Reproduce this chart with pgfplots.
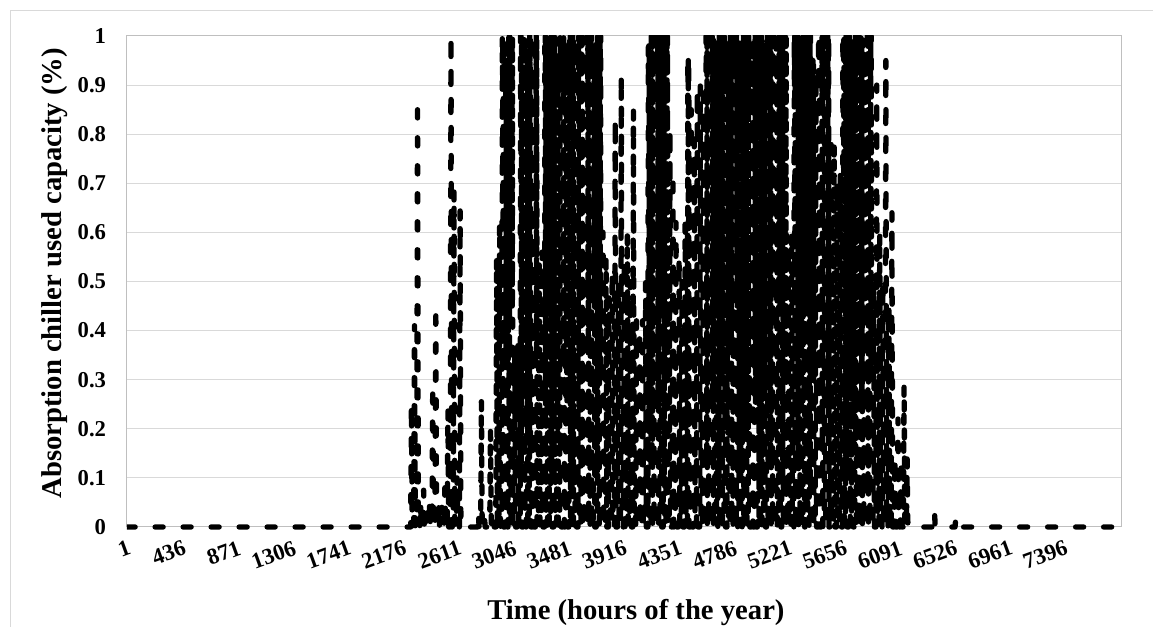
\documentclass[border=0pt]{standalone}
\usepackage{fontspec}
\setmainfont{Liberation Serif}
\usepackage{pgfplots}
\pgfplotsset{compat=1.18}
\definecolor{gridc}{HTML}{D9D9D9}
\definecolor{axisc}{HTML}{BFBFBF}
\begin{document}
\begin{tikzpicture}
\useasboundingbox (0,0) rectangle (864.75pt,470.25pt);
\draw[gridc, line width=0.75pt] (7.5pt,-5pt) -- (7.5pt,462pt) -- (875pt,462pt);
\begin{axis}[
  at={(95.25pt,75pt)}, anchor=south west,
  scale only axis, width=745.5pt, height=368.25pt,
  xmin=0, xmax=7845, ymin=0, ymax=1,
  axis line style={axisc, line width=0.75pt},
  ymajorgrids, grid style={gridc, line width=0.75pt},
  major tick length=0pt,
  xtick={1,436,871,1306,1741,2176,2611,3046,3481,3916,4351,4786,5221,5656,6091,6526,6961,7396},
  xticklabels={1,436,871,1306,1741,2176,2611,3046,3481,3916,4351,4786,5221,5656,6091,6526,6961,7396},
  ytick={0,0.1,0.2,0.3,0.4,0.5,0.6,0.7,0.8,0.9,1},
  yticklabels={0,0.1,0.2,0.3,0.4,0.5,0.6,0.7,0.8,0.9,1},
  ticklabel style={font=\fontsize{17}{19}\selectfont\bfseries},
  xticklabel style={yshift=-9.5pt, rotate=20, anchor=north east, inner sep=0pt},
  yticklabel style={anchor=east, inner sep=0pt, xshift=-15.5pt},
  xlabel={Time (hours of the year)},
  ylabel={Absorption chiller used capacity (\%)},
  every axis x label/.style={at={(axis description cs:0.512,-0.189)}, anchor=base, font=\fontsize{21.5}{24}\selectfont\bfseries},
  every axis y label/.style={at={(axis description cs:-0.0657,0.517)}, rotate=90, anchor=base, font=\fontsize{21.5}{24}\selectfont\bfseries},
  clip=false,
]
\begin{scope}
\clip (axis cs:0,-0.1) rectangle (axis cs:7845,1);
\addplot[black, line width=4pt, dash pattern=on 6pt off 15pt, line cap=round, line join=round] coordinates {
(1,0)
(2239,0)(2245,0.25)(2251,0)
(2263,0)(2269,0.41)(2275,0)
(2287,0)(2293,0.87)(2299,0)
(2311,0)(2317,0.05)(2323,0)
(2335,0)(2341,0.075)(2347,0)
(2359,0)(2365,0.03)(2371,0)
(2383,0)(2389,0.055)(2395,0)
(2407,0)(2413,0.29)(2419,0)
(2431,0)(2437,0.45)(2443,0)
(2455,0)(2461,0.05)(2467,0)
(2479,0)(2485,0.04)(2491,0)
(2503,0)(2509,0.08)(2515,0)
(2527,0)(2533,0.24)(2539,0)
(2551,0)(2557,1)(2563,0)
(2575,0)(2581,0.686)(2587,0)
(2599,0)(2605,0.1)(2611,0)
(2623,0)(2629,0.646)(2635,0)
(2767,0)(2773,0.03)(2779,0)
(2791,0)(2797,0.26)(2803,0)
(2815,0)(2821,0.02)(2827,0)
(2863,0)(2869,0.2)(2875,0)
(2887,0)(2893,0.02)(2899,0)
(2911,0)(2917,0.55)(2923,0)
(2935,0)(2941,0.62)(2947,0)
(2959,0)(2962,1)(2964,0.92)(2966,1)(2968,0.15)(2970,1)(2972,0)
(2983,0)(2986,0.95)(2988,0.85)(2990,0.95)(2992,0.35)(2994,0.95)(2996,0)
(3007,0)(3010,1)(3012,0.96)(3014,1)(3016,0.25)(3018,1)(3020,0)
(3031,0)(3034,1)(3036,0.88)(3038,1)(3040,0.45)(3042,1)(3044,0)
(3055,0)(3061,0.36)(3067,0)
(3079,0)(3085,0.38)(3091,0)
(3103,0)(3106,1)(3108,0.8)(3110,1)(3112,0.1)(3114,1)(3116,0)
(3127,0)(3130,1)(3132,0.94)(3134,1)(3136,0.3)(3138,1)(3140,0)
(3151,0)(3154,0.97)(3156,0.9)(3158,0.97)(3160,0.2)(3162,0.97)(3164,0)
(3175,0)(3178,1)(3180,0.92)(3182,1)(3184,0.15)(3186,1)(3188,0)
(3199,0)(3205,0.91)(3211,0)
(3223,0)(3226,1)(3228,0.85)(3230,1)(3232,0.35)(3234,1)(3236,0)
(3247,0)(3253,0.54)(3259,0)
(3271,0)(3277,0.56)(3283,0)
(3295,0)(3298,1)(3300,0.96)(3302,1)(3304,0.25)(3306,1)(3308,0)
(3319,0)(3322,0.98)(3324,0.88)(3326,0.98)(3328,0.45)(3330,0.98)(3332,0)
(3343,0)(3346,1)(3348,0.8)(3350,1)(3352,0.1)(3354,1)(3356,0)
(3367,0)(3370,1)(3372,0.94)(3374,1)(3376,0.3)(3378,1)(3380,0)
(3391,0)(3394,0.96)(3396,0.9)(3398,0.96)(3400,0.2)(3402,0.96)(3404,0)
(3415,0)(3418,1)(3420,0.92)(3422,1)(3424,0.15)(3426,1)(3428,0)
(3439,0)(3442,1)(3444,0.85)(3446,1)(3448,0.35)(3450,1)(3452,0)
(3463,0)(3466,0.97)(3468,0.9)(3470,0.97)(3472,0.25)(3474,0.97)(3476,0)
(3487,0)(3490,1)(3492,0.88)(3494,1)(3496,0.45)(3498,1)(3500,0)
(3511,0)(3514,1)(3516,0.8)(3518,1)(3520,0.1)(3522,1)(3524,0)
(3535,0)(3538,0.99)(3540,0.94)(3542,0.99)(3544,0.3)(3546,0.99)(3548,0)
(3559,0)(3562,1)(3564,0.9)(3566,1)(3568,0.2)(3570,1)(3572,0)
(3583,0)(3586,1)(3588,0.92)(3590,1)(3592,0.15)(3594,1)(3596,0)
(3607,0)(3613,0.83)(3619,0)
(3631,0)(3634,1)(3636,0.85)(3638,1)(3640,0.35)(3642,1)(3644,0)
(3655,0)(3658,1)(3660,0.96)(3662,1)(3664,0.25)(3666,1)(3668,0)
(3679,0)(3682,0.97)(3684,0.88)(3686,0.97)(3688,0.45)(3690,0.97)(3692,0)
(3703,0)(3706,1)(3708,0.8)(3710,1)(3712,0.1)(3714,1)(3716,0)
(3727,0)(3730,1)(3732,0.94)(3734,1)(3736,0.3)(3738,1)(3740,0)
(3751,0)(3757,0.6)(3763,0)
(3775,0)(3781,0.55)(3787,0)
(3799,0)(3805,0.47)(3811,0)
(3823,0)(3829,0.52)(3835,0)
(3847,0)(3853,0.83)(3859,0)
(3871,0)(3877,0.5)(3883,0)
(3895,0)(3901,0.92)(3907,0)
(3919,0)(3925,0.55)(3931,0)
(3943,0)(3949,0.6)(3955,0)
(3967,0)(3973,0.5)(3979,0)
(3991,0)(3997,0.85)(4003,0)
(4015,0)(4021,0.42)(4027,0)
(4039,0)(4045,0.4)(4051,0)
(4063,0)(4069,0.42)(4075,0)
(4087,0)(4093,0.5)(4099,0)
(4111,0)(4114,0.98)(4116,0.9)(4118,0.98)(4120,0.2)(4122,0.98)(4124,0)
(4135,0)(4138,1)(4140,0.92)(4142,1)(4144,0.15)(4146,1)(4148,0)
(4159,0)(4162,1)(4164,0.85)(4166,1)(4168,0.35)(4170,1)(4172,0)
(4183,0)(4186,1)(4188,0.96)(4190,1)(4192,0.25)(4194,1)(4196,0)
(4207,0)(4210,1)(4212,0.88)(4214,1)(4216,0.45)(4218,1)(4220,0)
(4231,0)(4234,1)(4236,0.8)(4238,1)(4240,0.1)(4242,1)(4244,0)
(4255,0)(4258,1)(4260,0.94)(4262,1)(4264,0.3)(4266,1)(4268,0)
(4279,0)(4285,0.81)(4291,0)
(4303,0)(4309,0.72)(4315,0)
(4327,0)(4333,0.62)(4339,0)
(4351,0)(4357,0.55)(4363,0)
(4375,0)(4381,0.5)(4387,0)
(4399,0)(4405,0.62)(4411,0)
(4423,0)(4426,0.95)(4428,0.9)(4430,0.95)(4432,0.2)(4434,0.95)(4436,0)
(4447,0)(4453,0.85)(4459,0)
(4471,0)(4477,0.79)(4483,0)
(4495,0)(4501,0.89)(4507,0)
(4519,0)(4525,0.9)(4531,0)
(4543,0)(4549,0.88)(4555,0)
(4567,0)(4570,1)(4572,0.92)(4574,1)(4576,0.15)(4578,1)(4580,0)
(4591,0)(4594,1)(4596,0.85)(4598,1)(4600,0.35)(4602,1)(4604,0)
(4615,0)(4618,1)(4620,0.96)(4622,1)(4624,0.25)(4626,1)(4628,0)
(4639,0)(4642,0.98)(4644,0.88)(4646,0.98)(4648,0.45)(4650,0.98)(4652,0)
(4663,0)(4666,1)(4668,0.8)(4670,1)(4672,0.1)(4674,1)(4676,0)
(4687,0)(4690,1)(4692,0.94)(4694,1)(4696,0.3)(4698,1)(4700,0)
(4711,0)(4714,1)(4716,0.9)(4718,1)(4720,0.2)(4722,1)(4724,0)
(4735,0)(4738,0.97)(4740,0.92)(4742,0.97)(4744,0.15)(4746,0.97)(4748,0)
(4759,0)(4762,1)(4764,0.85)(4766,1)(4768,0.35)(4770,1)(4772,0)
(4783,0)(4786,1)(4788,0.96)(4790,1)(4792,0.25)(4794,1)(4796,0)
(4807,0)(4810,1)(4812,0.88)(4814,1)(4816,0.45)(4818,1)(4820,0)
(4831,0)(4834,0.99)(4836,0.8)(4838,0.99)(4840,0.1)(4842,0.99)(4844,0)
(4855,0)(4858,1)(4860,0.94)(4862,1)(4864,0.3)(4866,1)(4868,0)
(4879,0)(4882,1)(4884,0.9)(4886,1)(4888,0.2)(4890,1)(4892,0)
(4903,0)(4906,1)(4908,0.92)(4910,1)(4912,0.15)(4914,1)(4916,0)
(4927,0)(4930,0.98)(4932,0.85)(4934,0.98)(4936,0.35)(4938,0.98)(4940,0)
(4951,0)(4954,1)(4956,0.96)(4958,1)(4960,0.25)(4962,1)(4964,0)
(4975,0)(4978,1)(4980,0.88)(4982,1)(4984,0.45)(4986,1)(4988,0)
(4999,0)(5002,1)(5004,0.8)(5006,1)(5008,0.1)(5010,1)(5012,0)
(5023,0)(5026,0.97)(5028,0.94)(5030,0.97)(5032,0.3)(5034,0.97)(5036,0)
(5047,0)(5050,1)(5052,0.9)(5054,1)(5056,0.2)(5058,1)(5060,0)
(5071,0)(5074,1)(5076,0.92)(5078,1)(5080,0.15)(5082,1)(5084,0)
(5095,0)(5098,1)(5100,0.85)(5102,1)(5104,0.35)(5106,1)(5108,0)
(5119,0)(5122,0.99)(5124,0.96)(5126,0.99)(5128,0.25)(5130,0.99)(5132,0)
(5143,0)(5146,1)(5148,0.88)(5150,1)(5152,0.45)(5154,1)(5156,0)
(5167,0)(5170,1)(5172,0.8)(5174,1)(5176,0.1)(5178,1)(5180,0)
(5191,0)(5194,1)(5196,0.94)(5198,1)(5200,0.3)(5202,1)(5204,0)
(5215,0)(5221,0.58)(5227,0)
(5239,0)(5245,0.6)(5251,0)
(5263,0)(5266,1)(5268,0.9)(5270,1)(5272,0.2)(5274,1)(5276,0)
(5287,0)(5290,1)(5292,0.92)(5294,1)(5296,0.15)(5298,1)(5300,0)
(5311,0)(5314,0.98)(5316,0.85)(5318,0.98)(5320,0.35)(5322,0.98)(5324,0)
(5335,0)(5338,1)(5340,0.96)(5342,1)(5344,0.25)(5346,1)(5348,0)
(5359,0)(5362,1)(5364,0.88)(5366,1)(5368,0.45)(5370,1)(5372,0)
(5383,0)(5386,1)(5388,0.8)(5390,1)(5392,0.1)(5394,1)(5396,0)
(5407,0)(5410,0.95)(5412,0.9)(5414,0.95)(5416,0.3)(5418,0.95)(5420,0)
(5431,0)(5437,0.9)(5443,0)
(5455,0)(5458,1)(5460,0.92)(5462,1)(5464,0.2)(5466,1)(5468,0)
(5479,0)(5482,1)(5484,0.85)(5486,1)(5488,0.15)(5490,1)(5492,0)
(5503,0)(5506,1)(5508,0.96)(5510,1)(5512,0.35)(5514,1)(5516,0)
(5527,0)(5530,1)(5532,0.88)(5534,1)(5536,0.25)(5538,1)(5540,0)
(5551,0)(5557,0.78)(5563,0)
(5575,0)(5581,0.78)(5587,0)
(5599,0)(5605,0.7)(5611,0)
(5623,0)(5629,0.72)(5635,0)
(5647,0)(5650,1)(5652,0.8)(5654,1)(5656,0.45)(5658,1)(5660,0)
(5671,0)(5674,1)(5676,0.94)(5678,1)(5680,0.1)(5682,1)(5684,0)
(5695,0)(5698,1)(5700,0.9)(5702,1)(5704,0.3)(5706,1)(5708,0)
(5719,0)(5722,0.98)(5724,0.92)(5726,0.98)(5728,0.2)(5730,0.98)(5732,0)
(5743,0)(5746,1)(5748,0.85)(5750,1)(5752,0.15)(5754,1)(5756,0)
(5767,0)(5770,1)(5772,0.96)(5774,1)(5776,0.35)(5778,1)(5780,0)
(5791,0)(5794,1)(5796,0.88)(5798,1)(5800,0.25)(5802,1)(5804,0)
(5815,0)(5818,0.97)(5820,0.8)(5822,0.97)(5824,0.45)(5826,0.97)(5828,0)
(5839,0)(5842,1)(5844,0.94)(5846,1)(5848,0.1)(5850,1)(5852,0)
(5863,0)(5866,1)(5868,0.9)(5870,1)(5872,0.3)(5874,1)(5876,0)
(5887,0)(5893,0.5)(5899,0)
(5911,0)(5917,0.9)(5923,0)
(5935,0)(5941,0.6)(5947,0)
(5959,0)(5965,0.5)(5971,0)
(5983,0)(5989,0.95)(5995,0)
(6007,0)(6013,0.45)(6019,0)
(6031,0)(6037,0.64)(6043,0)
(6055,0)(6061,0.14)(6067,0)
(6079,0)(6085,0.22)(6091,0)
(6103,0)(6109,0.12)(6115,0)
(6127,0)(6133,0.29)(6139,0)
(6151,0)(6157,0.14)(6163,0)
(6367,0)(6373,0.03)(6379,0)
(6535,0)(6541,0.018)(6547,0)
(7845,0)
};
\end{scope}
\end{axis}
\end{tikzpicture}
\end{document}
